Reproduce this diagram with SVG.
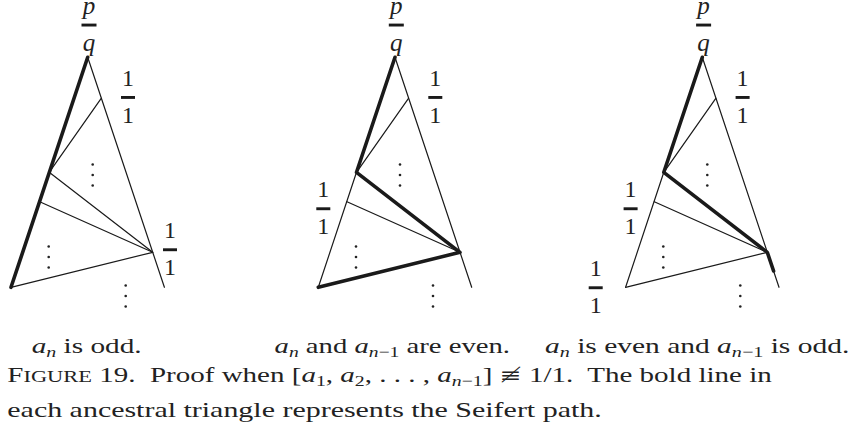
<svg xmlns="http://www.w3.org/2000/svg" width="863" height="432" viewBox="0 0 863 432">
<style>
.thin{stroke:#1a1a1a;stroke-width:1.2;fill:none;stroke-linecap:round}
.bold{stroke:#1a1a1a;stroke-width:3.6;fill:none;stroke-linecap:round;stroke-linejoin:round}
.num{font-family:'Liberation Serif',serif;font-size:24px;fill:#222;text-anchor:middle}
.var{font-family:'Liberation Serif',serif;font-size:25px;font-style:italic;fill:#222;text-anchor:middle}
.cap{font-family:'Liberation Serif','DejaVu Serif',serif;font-size:22px;fill:#222}
.it{font-style:italic}
.sub{font-size:15px}
.sym{font-family:'DejaVu Serif','DejaVu Sans',serif;font-size:20px}
.dot{fill:#222}
.bar{fill:#1a1a1a}
</style>
<defs>
<g id="dots"><circle class="dot" cx="0" cy="0" r="1.3"/><circle class="dot" cx="0" cy="10.5" r="1.3"/><circle class="dot" cx="0" cy="21" r="1.3"/></g>
<g id="pq"><text class="var" x="1.3" y="13.5">p</text><rect class="bar" x="-6.2" y="23.6" width="15" height="2.9"/><text class="var" x="1.3" y="51">q</text></g>
<g id="one"><text class="num" x="0" y="0">1</text><rect class="bar" x="-7" y="10" width="14" height="2.9"/><text class="num" x="0" y="36.5">1</text></g>
</defs>

<g id="triangle-odd" transform="translate(87.7,0)">
<line class="thin" x1="0" y1="57.3" x2="76.7" y2="287.3"/>
<line class="thin" x1="13.5" y1="98.3" x2="-38.5" y2="172.3"/>
<line class="thin" x1="-38.5" y1="172.3" x2="65" y2="252.3"/>
<line class="thin" x1="-48" y1="201.7" x2="65" y2="252.3"/>
<line class="thin" x1="-76.7" y1="287.3" x2="65" y2="252.3"/>
<line class="bold" x1="0" y1="57.3" x2="-76.7" y2="287.3"/>
<use href="#dots" x="5" y="164.5"/>
<use href="#dots" x="-39" y="246.5"/>
<use href="#dots" x="38" y="285.5"/>
<use href="#pq"/>
<use href="#one" x="40.3" y="86"/>
<use href="#one" x="82.3" y="238.3"/>
</g>

<g id="triangle-even-even" transform="translate(395,0)">
<line class="thin" x1="0" y1="57.3" x2="76.7" y2="287.3"/>
<line class="thin" x1="-38.5" y1="172.3" x2="-76.7" y2="287.3"/>
<line class="thin" x1="13.5" y1="98.3" x2="-38.5" y2="172.3"/>
<line class="thin" x1="-48" y1="201.7" x2="65" y2="252.3"/>
<polyline class="bold" points="0,57.3 -38.5,172.3 65,252.3 -76.7,287.3"/>
<use href="#dots" x="5" y="164.5"/>
<use href="#dots" x="-39" y="246.5"/>
<use href="#dots" x="38" y="285.5"/>
<use href="#pq"/>
<use href="#one" x="40.3" y="86"/>
<use href="#one" x="-71.7" y="197.3"/>
</g>

<g id="triangle-even-odd" transform="translate(702.3,0)">
<line class="thin" x1="0" y1="57.3" x2="76.7" y2="287.3"/>
<line class="thin" x1="-38.5" y1="172.3" x2="-76.7" y2="287.3"/>
<line class="thin" x1="13.5" y1="98.3" x2="-38.5" y2="172.3"/>
<line class="thin" x1="-48" y1="201.7" x2="65" y2="252.3"/>
<line class="thin" x1="-76.7" y1="287.3" x2="65" y2="252.3"/>
<polyline class="bold" points="0,57.3 -38.5,172.3 65,252.3 71.3,271"/>
<use href="#dots" x="5" y="164.5"/>
<use href="#dots" x="-39" y="246.5"/>
<use href="#dots" x="38" y="285.5"/>
<use href="#pq"/>
<use href="#one" x="40.3" y="86"/>
<use href="#one" x="-71.7" y="197.3"/>
<use href="#one" x="-106.6" y="276.3"/>
</g>

<g id="captions">
<text class="cap" x="31.7" y="353" textLength="110" lengthAdjust="spacingAndGlyphs"><tspan class="it">a</tspan><tspan class="sub it" dy="4">n</tspan><tspan dy="-4"> is odd.</tspan></text>
<text class="cap" x="274.6" y="353" textLength="235.4" lengthAdjust="spacingAndGlyphs"><tspan class="it">a</tspan><tspan class="sub it" dy="4">n</tspan><tspan dy="-4"> and </tspan><tspan class="it">a</tspan><tspan class="sub" dy="4"><tspan class="it">n</tspan>−1</tspan><tspan dy="-4"> are even.</tspan></text>
<text class="cap" x="545" y="353" textLength="304.3" lengthAdjust="spacingAndGlyphs"><tspan class="it">a</tspan><tspan class="sub it" dy="4">n</tspan><tspan dy="-4"> is even and </tspan><tspan class="it">a</tspan><tspan class="sub" dy="4"><tspan class="it">n</tspan>−1</tspan><tspan dy="-4"> is odd.</tspan></text>
<text class="cap" x="7.3" y="381.7" textLength="764.4" lengthAdjust="spacingAndGlyphs">F<tspan style="font-size:17px">IGURE</tspan> 19.&#160; Proof when [<tspan class="it">a</tspan><tspan class="sub" dy="4">1</tspan><tspan dy="-4">, </tspan><tspan class="it">a</tspan><tspan class="sub" dy="4">2</tspan><tspan dy="-4">, . . . , </tspan><tspan class="it">a</tspan><tspan class="sub" dy="4"><tspan class="it">n</tspan>−1</tspan><tspan dy="-4">] </tspan><tspan class="sym">≢</tspan> 1/1.&#160; The bold line in</text>
<text class="cap" x="7.3" y="416.5" textLength="594.4" lengthAdjust="spacingAndGlyphs">each ancestral triangle represents the Seifert path.</text>
</g>
</svg>
